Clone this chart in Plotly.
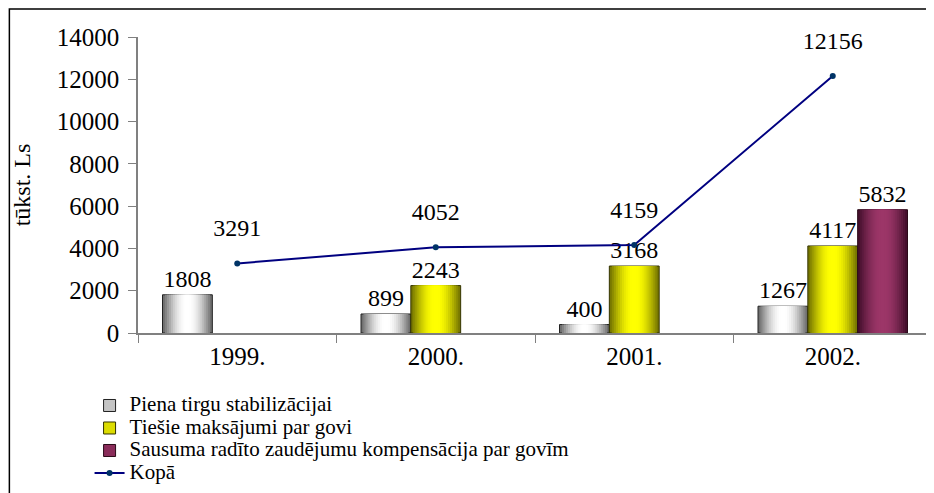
import math
import plotly.graph_objects as go

years = ["1999.", "2000.", "2001.", "2002."]
piena = [1808, 899, 400, 1267]
tiesie = [None, 2243, 3168, 4117]
sausums = [None, None, None, 5832]
kopa = [3291, 4052, 4159, 12156]

names = ["Piena tirgu stabilizācijai", "Tiešie maksājumi par govi",
         "Sausuma radīto zaudējumu kompensācija par govīm", "Kopā"]

FONT = "Liberation Serif, Times New Roman, serif"
FS = 24
TFS = 25
BARGAP = 0.247
W = (1 - BARGAP) / 3  # width of one bar slot in category units
NL = 12               # shading layers per bar

# (edge colour, centre colour, legend colour, outline colour)
styles = {
    "a": ((112, 112, 112), (255, 255, 255), "#c4c4c4", "#222222"),
    "b": ((120, 120, 0), (255, 255, 0), "#dcdc00", "#333300"),
    "c": ((70, 16, 46), (156, 54, 104), "#8a2c5a", "#2a0a18"),
}

def shade(e, c, t):
    k = math.sin(t * math.pi / 2)
    return "rgb(%d,%d,%d)" % tuple(round(e[i] + (c[i] - e[i]) * k) for i in range(3))

def txt(vals):
    return ["" if v is None else str(v) for v in vals]

def lg(name):
    return '<span style="font-size:21px">' + name + '</span>'

fig = go.Figure()
series = [("a", piena, names[0]), ("b", tiesie, names[1]), ("c", sausums, names[2])]
for grp, vals, nm in series:
    e, c, lcol, ocol = styles[grp]
    # legend-only entry
    fig.add_bar(x=years, y=[None] * len(years), name=lg(nm), offsetgroup=grp,
                marker=dict(color=lcol, line=dict(color=ocol, width=1)))
    fig.add_bar(x=years, y=vals, text=txt(vals), textposition="outside", showlegend=False,
                offsetgroup=grp, cliponaxis=False,
                textfont=dict(family=FONT, size=FS, color="black"),
                marker=dict(color=shade(e, c, 0), line=dict(color=ocol, width=1)))
    for i in range(1, NL):
        fig.add_bar(x=years, y=vals, offsetgroup=grp, width=W * (1 - i / NL) * 0.985,
                    showlegend=False, hoverinfo="skip",
                    marker=dict(color=shade(e, c, i / (NL - 1)), line=dict(width=0)))

fig.add_scatter(x=years, y=kopa, name=lg(names[3]), mode="lines+markers",
                line=dict(color="#000080", width=2),
                marker=dict(color="#003366", size=6), cliponaxis=False)
# labels for the total line (transparent marker used to offset the text)
fig.add_scatter(x=years, y=kopa, mode="markers+text", text=[str(v) for v in kopa],
                textposition="top center", showlegend=False, hoverinfo="skip",
                textfont=dict(family=FONT, size=FS, color="black"),
                marker=dict(size=32, color="rgba(0,0,0,0)"), cliponaxis=False)

fig.add_shape(type="rect", xref="paper", yref="paper", x0=-0.162, x1=1.03, y0=-0.7, y1=1.095,
              line=dict(color="black", width=1.5), fillcolor="rgba(0,0,0,0)", layer="below")

fig.update_layout(
    width=934, height=493,
    margin=dict(l=130, r=10, t=29, b=168, autoexpand=False),
    plot_bgcolor="white", paper_bgcolor="white",
    font=dict(family=FONT, size=FS, color="black"),
    barmode="group", bargap=BARGAP, bargroupgap=0,
    showlegend=True,
    legend=dict(x=-0.061, y=-0.19, xanchor="left", yanchor="top",
                font=dict(family=FONT, size=15), tracegroupgap=0,
                itemwidth=30, bgcolor="rgba(0,0,0,0)"),
    xaxis=dict(type="category", showline=True, linecolor="#808080", linewidth=1.5, ticks="outside",
               tickson="boundaries", ticklen=8, tickcolor="#808080", showgrid=False,
               tickangle=0, automargin=False,
               tickfont=dict(family=FONT, size=TFS)),
    yaxis=dict(range=[0, 14000], dtick=2000, tickformat="d", showline=True, linecolor="#808080",
               linewidth=1.5, automargin=False,
               ticks="outside", ticklen=8, tickcolor="#808080", showgrid=False, zeroline=False,
               ticklabelstandoff=4,
               tickfont=dict(family=FONT, size=TFS),
               title=dict(text="tūkst. Ls", font=dict(family=FONT, size=FS), standoff=19)),
)

fig.write_html("out.html")
